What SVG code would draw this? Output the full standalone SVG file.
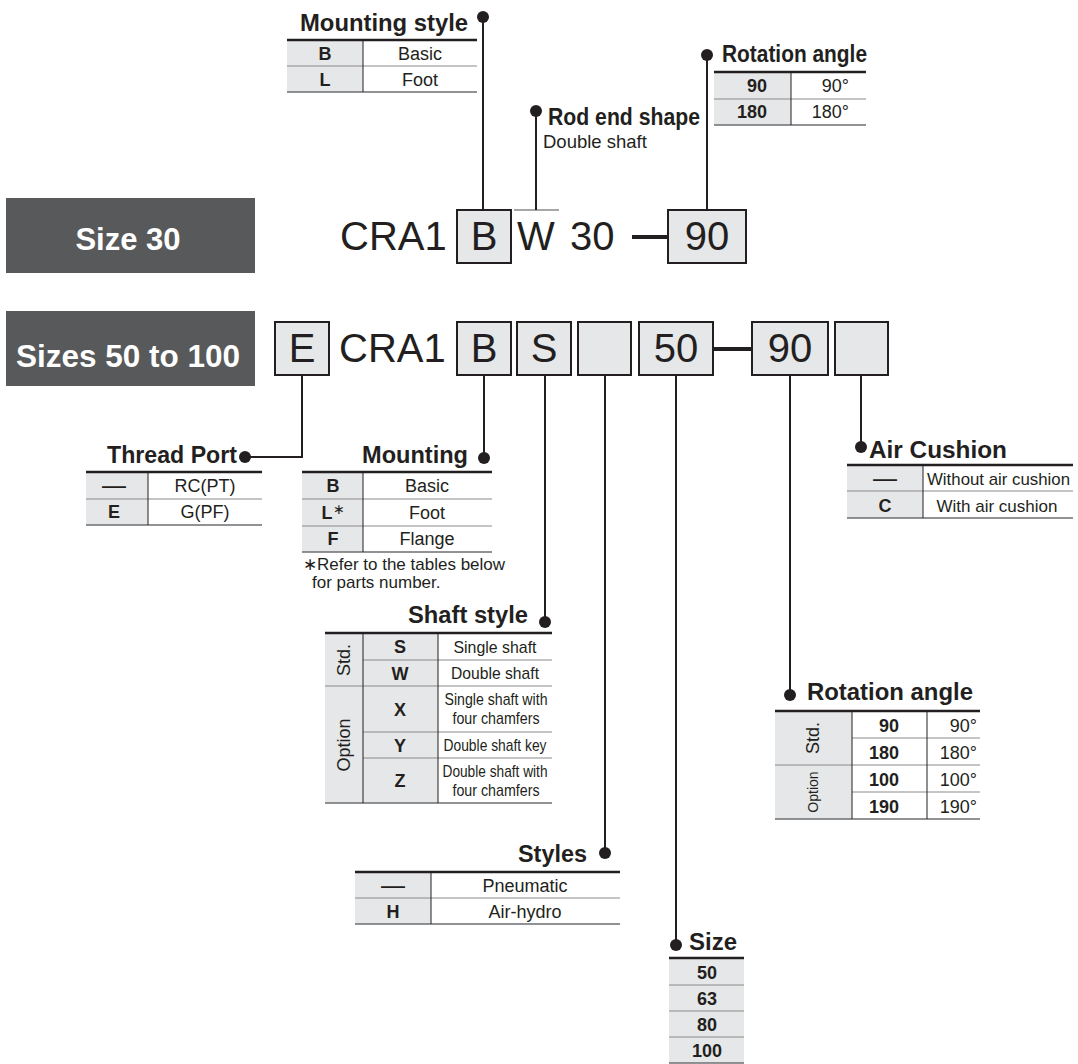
<svg xmlns="http://www.w3.org/2000/svg" width="1078" height="1064" viewBox="0 0 1078 1064">
<style>
text{font-family:"Liberation Sans",Arial,Helvetica,sans-serif;fill:#231f20}
.h{font-weight:bold;font-size:23.5px}
.b{font-size:18px}
.bb{font-size:18px;font-weight:bold}
.d{font-size:17px}
.big{font-size:40px}
.m{text-anchor:middle}
.e{text-anchor:end}
.w{fill:#fff;font-weight:bold}
.box{fill:#e6e7e8;stroke:#231f20;stroke-width:2}
.g{fill:#e6e7e8}
.top{stroke:#231f20;stroke-width:2.5}
.row{stroke:#8a8a8a;stroke-width:1}
.bot{stroke:#6d6e71;stroke-width:1.5}
.col{stroke:#231f20;stroke-width:1}
.con{stroke:#231f20;stroke-width:2;fill:none}
.dot{fill:#231f20}
</style>

<g id="banner-size30">
<rect x="6" y="198" width="249" height="75" fill="#58595b"/>
<text class="w m" x="128" y="250" font-size="31">Size 30</text>
</g>
<g id="banner-size50">
<rect x="6" y="311" width="249" height="75" fill="#58595b"/>
<text class="w m" x="128" y="367" font-size="31.5">Sizes 50 to 100</text>
</g>

<g id="code-row1">
<text class="big" x="340" y="250">CRA1</text>
<rect class="box" x="457" y="210" width="54" height="53"/>
<text class="big m" x="484" y="250">B</text>
<text class="big" x="517" y="250">W</text>
<text class="big" x="570" y="250">30</text>
<line x1="514" y1="210" x2="559" y2="210" stroke="#8a8a8a" stroke-width="1.5"/>
<line x1="632" y1="237" x2="668" y2="237" stroke="#231f20" stroke-width="4"/>
<rect class="box" x="668" y="210" width="78" height="53"/>
<text class="big m" x="707" y="250">90</text>
</g>

<g id="code-row2">
<rect class="box" x="275" y="322" width="54" height="53"/>
<text class="big m" x="302" y="362">E</text>
<text class="big" x="339" y="362">CRA1</text>
<rect class="box" x="457" y="322" width="54" height="53"/>
<text class="big m" x="484" y="362">B</text>
<rect class="box" x="517" y="322" width="54" height="53"/>
<text class="big m" x="544" y="362">S</text>
<rect class="box" x="578" y="322" width="53" height="53"/>
<rect class="box" x="639" y="322" width="74" height="53"/>
<text class="big m" x="676" y="362">50</text>
<line x1="713" y1="349" x2="752" y2="349" stroke="#231f20" stroke-width="4"/>
<rect class="box" x="752" y="322" width="76" height="53"/>
<text class="big m" x="790" y="362">90</text>
<rect class="box" x="835" y="322" width="53" height="53"/>
</g>

<g id="connectors">
<line class="con" x1="483" y1="17" x2="483" y2="210"/>
<circle class="dot" cx="483" cy="17" r="6"/>
<line class="con" x1="536" y1="111" x2="536" y2="210"/>
<circle class="dot" cx="536" cy="111" r="6"/>
<line class="con" x1="707" y1="55" x2="707" y2="210"/>
<circle class="dot" cx="707" cy="55" r="6"/>
<polyline class="con" points="302,375 302,457 245,457"/>
<circle class="dot" cx="245" cy="457" r="6"/>
<line class="con" x1="484" y1="375" x2="484" y2="458"/>
<circle class="dot" cx="484" cy="458" r="6"/>
<line class="con" x1="545" y1="375" x2="545" y2="622"/>
<circle class="dot" cx="545" cy="622" r="6"/>
<line class="con" x1="605" y1="375" x2="605" y2="853"/>
<circle class="dot" cx="605" cy="853" r="6"/>
<line class="con" x1="676" y1="375" x2="676" y2="945"/>
<circle class="dot" cx="676" cy="945" r="6"/>
<line class="con" x1="790" y1="375" x2="790" y2="695"/>
<circle class="dot" cx="790" cy="695" r="6"/>
<line class="con" x1="861" y1="375" x2="861" y2="447"/>
<circle class="dot" cx="861" cy="447" r="6"/>
</g>

<g id="mounting-style">
<text class="h" x="300" y="31" textLength="168" lengthAdjust="spacingAndGlyphs">Mounting style</text>
<rect class="g" x="287" y="40" width="76" height="52"/>
<line class="top" x1="287" y1="40" x2="477" y2="40"/>
<line class="row" x1="287" y1="66" x2="477" y2="66"/>
<line class="bot" x1="287" y1="92" x2="477" y2="92"/>
<line class="col" x1="363" y1="40" x2="363" y2="92"/>
<text class="bb m" x="325" y="60">B</text>
<text class="b m" x="420" y="60">Basic</text>
<text class="bb m" x="325" y="86">L</text>
<text class="b m" x="420" y="86">Foot</text>
</g>

<g id="rod-end-shape">
<text class="h" x="548" y="125" font-size="21" textLength="152" lengthAdjust="spacingAndGlyphs">Rod end shape</text>
<text x="543" y="148" font-size="18.5">Double shaft</text>
</g>

<g id="rotation-angle-30">
<text class="h" x="722" y="62" font-size="21" textLength="145" lengthAdjust="spacingAndGlyphs">Rotation angle</text>
<rect class="g" x="714" y="72" width="77" height="53"/>
<line class="top" x1="714" y1="72" x2="866" y2="72"/>
<line class="row" x1="714" y1="99" x2="866" y2="99"/>
<line class="bot" x1="714" y1="125" x2="866" y2="125"/>
<line class="col" x1="791" y1="72" x2="791" y2="125"/>
<text class="bb e" x="767" y="92">90</text>
<text class="b e" x="849" y="92">90°</text>
<text class="bb e" x="767" y="118">180</text>
<text class="b e" x="849" y="118">180°</text>
</g>

<g id="thread-port">
<text class="h" x="107" y="463" textLength="130" lengthAdjust="spacingAndGlyphs">Thread Port</text>
<rect class="g" x="86" y="472" width="62" height="53"/>
<line class="top" x1="86" y1="472" x2="262" y2="472"/>
<line class="row" x1="86" y1="499" x2="262" y2="499"/>
<line class="bot" x1="86" y1="525" x2="262" y2="525"/>
<line class="col" x1="148" y1="472" x2="148" y2="525"/>
<text class="bb m" x="114" y="492" textLength="24" lengthAdjust="spacingAndGlyphs">—</text>
<text class="b m" x="205" y="492">RC(PT)</text>
<text class="bb m" x="114" y="518">E</text>
<text class="b m" x="205" y="518">G(PF)</text>
</g>

<g id="mounting">
<text class="h" x="362" y="463" textLength="106" lengthAdjust="spacingAndGlyphs">Mounting</text>
<rect class="g" x="302" y="472" width="61" height="80"/>
<line class="top" x1="302" y1="472" x2="492" y2="472"/>
<line class="row" x1="302" y1="499" x2="492" y2="499"/>
<line class="row" x1="302" y1="526" x2="492" y2="526"/>
<line class="bot" x1="302" y1="552" x2="492" y2="552"/>
<line class="col" x1="363" y1="472" x2="363" y2="552"/>
<text class="bb m" x="333" y="492">B</text>
<text class="b m" x="427" y="492">Basic</text>
<text class="bb m" x="333" y="519">L<tspan font-weight="normal" font-size="14" dy="-5">∗</tspan></text>
<text class="b m" x="427" y="519">Foot</text>
<text class="bb m" x="333" y="545">F</text>
<text class="b m" x="427" y="545">Flange</text>
<text class="d" x="303" y="570">∗Refer to the tables below</text>
<text class="d" x="312" y="588">for parts number.</text>
</g>

<g id="air-cushion">
<text class="h" x="869" y="458" textLength="138" lengthAdjust="spacingAndGlyphs">Air Cushion</text>
<rect class="g" x="847" y="465" width="76" height="53"/>
<line class="top" x1="847" y1="465" x2="1073" y2="465"/>
<line class="row" x1="847" y1="491" x2="1073" y2="491"/>
<line class="bot" x1="847" y1="518" x2="1073" y2="518"/>
<line class="col" x1="923" y1="465" x2="923" y2="518"/>
<text class="bb m" x="885" y="485" textLength="24" lengthAdjust="spacingAndGlyphs">—</text>
<text class="d" x="927" y="485" textLength="143" lengthAdjust="spacingAndGlyphs">Without air cushion</text>
<text class="bb m" x="885" y="512">C</text>
<text class="d m" x="997" y="512">With air cushion</text>
</g>

<g id="shaft-style">
<text class="h" x="408" y="623" textLength="120" lengthAdjust="spacingAndGlyphs">Shaft style</text>
<rect class="g" x="325" y="633" width="113" height="170"/>
<line class="top" x1="325" y1="633" x2="552" y2="633"/>
<line class="row" x1="363" y1="660" x2="552" y2="660"/>
<line class="row" x1="325" y1="686" x2="552" y2="686"/>
<line class="row" x1="363" y1="732" x2="552" y2="732"/>
<line class="row" x1="363" y1="758" x2="552" y2="758"/>
<line class="bot" x1="325" y1="803" x2="552" y2="803"/>
<line class="col" x1="363" y1="633" x2="363" y2="803"/>
<line class="col" x1="438" y1="633" x2="438" y2="803"/>
<text class="b m" transform="translate(350,660) rotate(-90)">Std.</text>
<text class="b m" transform="translate(350,745) rotate(-90)">Option</text>
<text class="bb m" x="400" y="653">S</text>
<text class="bb m" x="400" y="680">W</text>
<text class="bb m" x="400" y="716">X</text>
<text class="bb m" x="400" y="752">Y</text>
<text class="bb m" x="400" y="787">Z</text>
<text class="d m" x="495" y="653" textLength="83" lengthAdjust="spacingAndGlyphs">Single shaft</text>
<text class="d m" x="495" y="679" textLength="88" lengthAdjust="spacingAndGlyphs">Double shaft</text>
<text class="d m" x="496" y="705" textLength="103" lengthAdjust="spacingAndGlyphs">Single shaft with</text>
<text class="d m" x="496" y="724" textLength="87" lengthAdjust="spacingAndGlyphs">four chamfers</text>
<text class="d m" x="495" y="751" textLength="103" lengthAdjust="spacingAndGlyphs">Double shaft key</text>
<text class="d m" x="495" y="777" textLength="105" lengthAdjust="spacingAndGlyphs">Double shaft with</text>
<text class="d m" x="496" y="796" textLength="87" lengthAdjust="spacingAndGlyphs">four chamfers</text>
</g>

<g id="rotation-angle">
<text class="h" x="807" y="700" textLength="166" lengthAdjust="spacingAndGlyphs">Rotation angle</text>
<rect class="g" x="775" y="711" width="77" height="108"/>
<line class="top" x1="775" y1="711" x2="980" y2="711"/>
<line class="row" x1="852" y1="738" x2="980" y2="738"/>
<line class="row" x1="775" y1="765" x2="980" y2="765"/>
<line class="row" x1="852" y1="792" x2="980" y2="792"/>
<line class="bot" x1="775" y1="819" x2="980" y2="819"/>
<line class="col" x1="852" y1="711" x2="852" y2="819"/>
<line class="col" x1="927" y1="711" x2="927" y2="819"/>
<text class="b m" transform="translate(819,738) rotate(-90)">Std.</text>
<text class="m" font-size="14" transform="translate(818,792) rotate(-90)">Option</text>
<text class="bb e" x="899" y="732">90</text>
<text class="bb e" x="899" y="759">180</text>
<text class="bb e" x="899" y="786">100</text>
<text class="bb e" x="899" y="813">190</text>
<text class="b e" x="977" y="732">90°</text>
<text class="b e" x="977" y="759">180°</text>
<text class="b e" x="977" y="786">100°</text>
<text class="b e" x="977" y="813">190°</text>
</g>

<g id="styles">
<text class="h" x="518" y="862" textLength="69" lengthAdjust="spacingAndGlyphs">Styles</text>
<rect class="g" x="355" y="872" width="76" height="52"/>
<line class="top" x1="355" y1="872" x2="620" y2="872"/>
<line class="row" x1="355" y1="898" x2="620" y2="898"/>
<line class="bot" x1="355" y1="924" x2="620" y2="924"/>
<line class="col" x1="431" y1="872" x2="431" y2="924"/>
<text class="bb m" x="393" y="892" textLength="24" lengthAdjust="spacingAndGlyphs">—</text>
<text class="b m" x="525" y="892">Pneumatic</text>
<text class="bb m" x="393" y="918">H</text>
<text class="b m" x="525" y="918">Air-hydro</text>
</g>

<g id="size">
<text class="h" x="689" y="950" textLength="48" lengthAdjust="spacingAndGlyphs">Size</text>
<rect class="g" x="669" y="958" width="75" height="105"/>
<line class="top" x1="669" y1="958" x2="744" y2="958"/>
<line class="row" x1="669" y1="985" x2="744" y2="985"/>
<line class="row" x1="669" y1="1011" x2="744" y2="1011"/>
<line class="row" x1="669" y1="1037" x2="744" y2="1037"/>
<line class="bot" x1="669" y1="1063" x2="744" y2="1063"/>
<text class="bb m" x="707" y="979" font-size="20">50</text>
<text class="bb m" x="707" y="1005" font-size="20">63</text>
<text class="bb m" x="707" y="1031" font-size="20">80</text>
<text class="bb m" x="707" y="1057" font-size="20">100</text>
</g>
</svg>
